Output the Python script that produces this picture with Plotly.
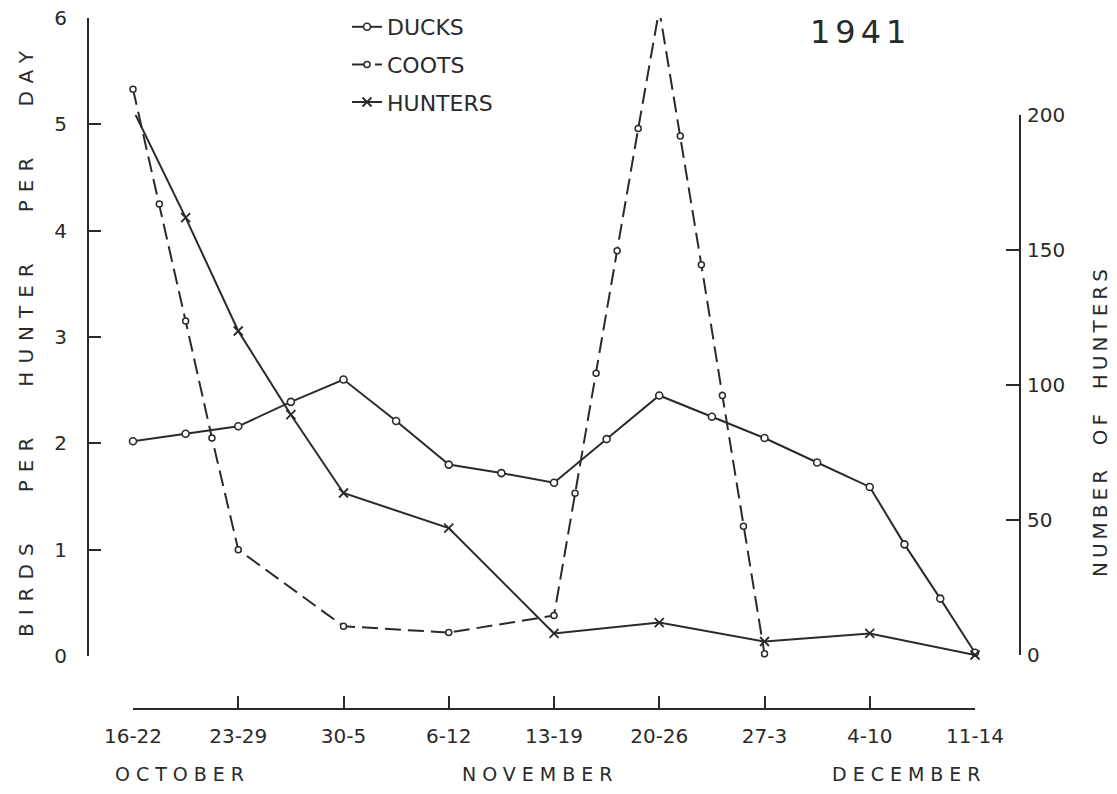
import plotly.graph_objects as go

# ---------------- data ----------------
week_labels = ["16-22", "23-29", "30-5", "6-12", "13-19", "20-26", "27-3", "4-10", "11-14"]
week_pos = [0, 1, 2, 3, 4, 5, 6, 7, 8]

month_labels = ["OCTOBER", "NOVEMBER", "DECEMBER"]
month_pos = [0.47, 3.87, 7.38]

ducks_x = [0, 0.5, 1, 1.5, 2, 2.5, 3, 3.5, 4, 4.5, 5, 5.5, 6, 6.5, 7, 7.33, 7.67, 8]
ducks_y = [2.02, 2.09, 2.16, 2.39, 2.60, 2.21, 1.80, 1.72, 1.63, 2.04, 2.45, 2.25, 2.05, 1.82, 1.59, 1.05, 0.54, 0.03]

coots_x = [0, 0.25, 0.5, 0.75, 1, 2, 3, 4, 4.2, 4.4, 4.6, 4.8, 5, 5.2, 5.4, 5.6, 5.8, 6]
coots_y = [5.33, 4.25, 3.15, 2.05, 1.00, 0.28, 0.22, 0.38, 1.53, 2.66, 3.81, 4.96, 6.08, 4.89, 3.68, 2.45, 1.22, 0.02]

hunters_x = [0, 0.5, 1, 1.5, 2, 3, 4, 5, 6, 7, 8]
hunters_n = [202, 162, 120, 89, 60, 47, 8, 12, 5, 8, 0]

left_ticks = [0, 1, 2, 3, 4, 5, 6]
right_ticks = [0, 50, 100, 150, 200]

# ---------------- style ----------------
W, H = 1117, 794
INK = "#2a2a2a"
FONT = "DejaVu Sans"
NB = "\u00a0"


def spaced(text, px):
    return '<span style="letter-spacing:%dpx">%s</span>' % (px, text)


fig = go.Figure()

fig.add_trace(go.Scatter(
    x=ducks_x, y=ducks_y, name="DUCKS", mode="lines+markers",
    line=dict(color=INK, width=2),
    marker=dict(symbol="circle", size=7, color="white", line=dict(color=INK, width=1.6)),
    cliponaxis=False, legendgroup="ducks", xaxis="x", yaxis="y"))

fig.add_trace(go.Scatter(
    x=coots_x, y=coots_y, name="COOTS", mode="lines+markers",
    line=dict(color=INK, width=2, dash="16px,7px"),
    marker=dict(symbol="circle", size=6, color="white", line=dict(color=INK, width=1.5)),
    cliponaxis=False, legendgroup="coots", xaxis="x", yaxis="y"))

fig.add_trace(go.Scatter(
    x=hunters_x, y=hunters_n, name="HUNTERS", mode="lines+markers",
    line=dict(color=INK, width=2),
    marker=dict(symbol="x-thin", size=9, color=INK, line=dict(color=INK, width=1.8)),
    cliponaxis=False, legendgroup="hunters", xaxis="x", yaxis="y2"))

axis_common = dict(showline=True, linecolor=INK, linewidth=2, ticks="inside",
                   tickcolor=INK, tickwidth=1.8, showgrid=False, zeroline=False,
                   automargin=False, tickfont=dict(family=FONT, size=20, color=INK))

fig.update_layout(
    width=W, height=H,
    margin=dict(l=0, r=0, t=0, b=0),
    template="none",
    paper_bgcolor="white", plot_bgcolor="rgba(0,0,0,0)",
    font=dict(family=FONT, size=20, color=INK),
    showlegend=True,
    legend=dict(x=347 / W, y=1 - 6 / H, xanchor="left", yanchor="top",
                bgcolor="rgba(0,0,0,0)", borderwidth=0, tracegroupgap=6,
                font=dict(family=FONT, size=22, color=INK)),
    xaxis=dict(domain=[133 / W, 975 / W], range=[0, 8], anchor="free", position=1 - 709 / H,
               tickvals=week_pos, ticktext=week_labels, ticklen=12, ticklabelstandoff=9,
               **axis_common),
    yaxis=dict(domain=[1 - 656 / H, 1 - 18 / H], range=[0, 6], anchor="free", position=88 / W,
               side="left", tickvals=left_ticks, ticklen=12, ticklabelstandoff=16,
               **axis_common),
    yaxis2=dict(domain=[1 - 655 / H, 1 - 115 / H], range=[0, 200], anchor="free", position=1020 / W,
                side="right", tickvals=right_ticks, ticklen=13, ticklabelstandoff=2,
                **axis_common),
)

annotations = []
for lab, pos in zip(month_labels, month_pos):
    annotations.append(dict(x=pos, xref="x", y=1 - 774 / H, yref="paper", text=spaced(lab, 6),
                            showarrow=False, xanchor="center", yanchor="middle",
                            font=dict(family=FONT, size=19, color=INK)))

annotations.append(dict(x=860 / W, xref="paper", y=1 - 32 / H, yref="paper", text=spaced("1941", 5),
                        showarrow=False, xanchor="center", yanchor="middle",
                        font=dict(family=FONT, size=32, color=INK)))

annotations.append(dict(x=26 / W, xref="paper", y=1 - 340 / H, yref="paper",
                        text=spaced("BIRDS PER HUNTER PER DAY".replace(" ", NB * 3), 8),
                        textangle=-90, showarrow=False, xanchor="center", yanchor="middle",
                        font=dict(family=FONT, size=20, color=INK)))

annotations.append(dict(x=1100 / W, xref="paper", y=1 - 421 / H, yref="paper",
                        text=spaced("NUMBER OF HUNTERS".replace(" ", NB * 2), 4),
                        textangle=-90, showarrow=False, xanchor="center", yanchor="middle",
                        font=dict(family=FONT, size=20, color=INK)))

fig.update_layout(annotations=annotations)

fig.write_html("out.html")
